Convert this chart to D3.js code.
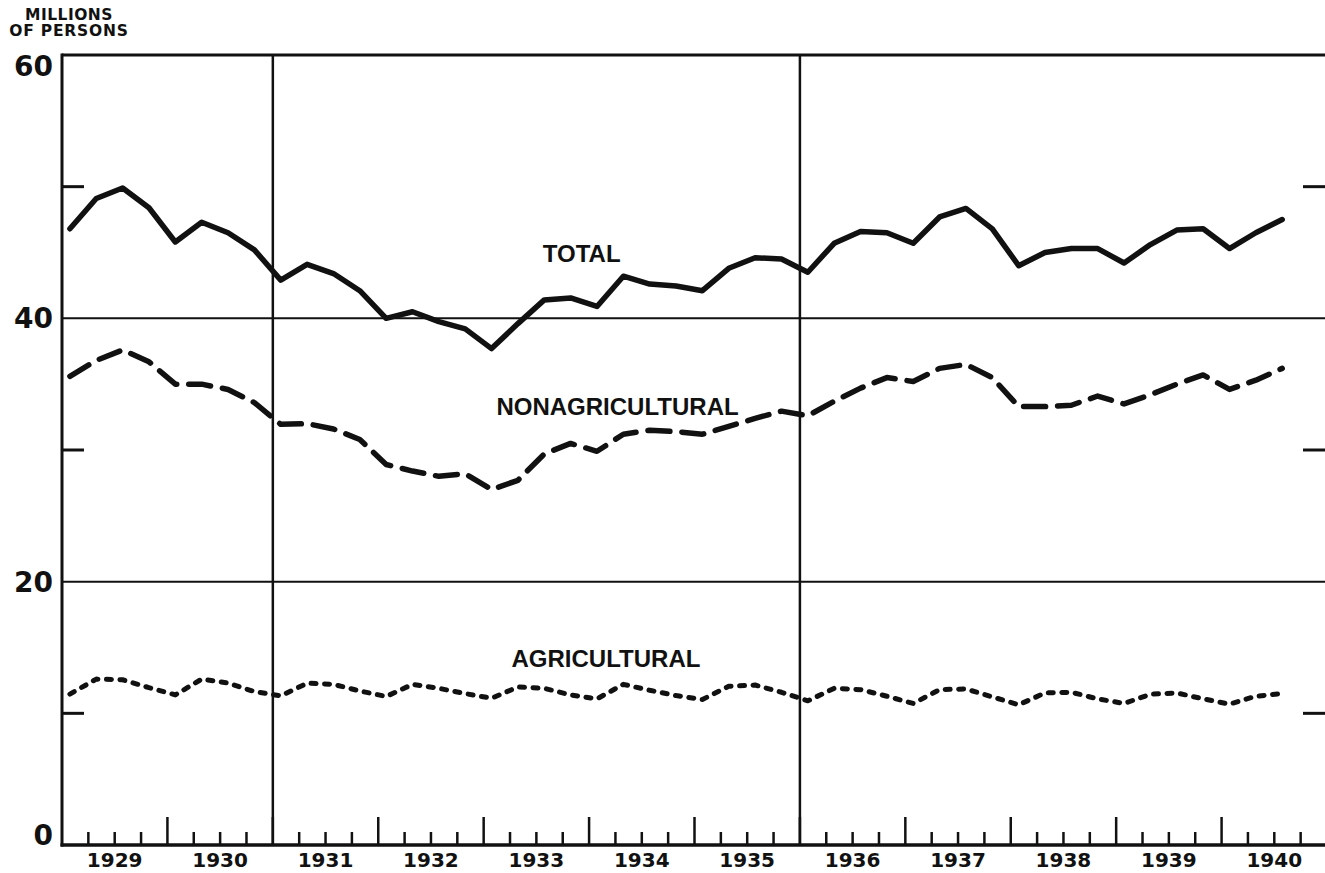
<!DOCTYPE html>
<html lang="en">
<head>
<meta charset="utf-8">
<title>Employment 1929-1940</title>
<script src="https://cdn.jsdelivr.net/npm/d3@7/dist/d3.min.js"></script>
<style>
  html, body { margin: 0; padding: 0; background: #fff; }
  svg { display: block; }
  .num { font-family: "DejaVu Sans", sans-serif; font-weight: bold; fill: #111; }
  .lbl { font-family: "Liberation Sans", Arial, sans-serif; font-weight: bold; fill: #111; }
</style>
</head>
<body>
<div id="chart"></div>
<script>
// quarterly values, 1929 Q1 .. 1940 Q3 (millions of persons)
var firstYear = 1929;
var years = [1929, 1930, 1931, 1932, 1933, 1934, 1935, 1936, 1937, 1938, 1939, 1940];

var total = [46.8, 49.1, 49.9, 48.4, 45.8, 47.3, 46.5, 45.2,
             42.9, 44.1, 43.4, 42.1, 40.0, 40.5, 39.75, 39.2,
             37.7, 39.6, 41.4, 41.55, 40.9, 43.2, 42.6, 42.45,
             42.1, 43.8, 44.6, 44.5, 43.5, 45.7, 46.6, 46.5,
             45.7, 47.7, 48.35, 46.8, 44.0, 45.0, 45.3, 45.3,
             44.2, 45.6, 46.7, 46.8, 45.3, 46.5, 47.5];

var nonAgricultural = [35.6, 36.8, 37.6, 36.7, 35.0, 35.0, 34.6, 33.6,
                       31.95, 32.0, 31.6, 30.8, 28.9, 28.4, 28.0, 28.2,
                       27.0, 27.7, 29.7, 30.5, 29.9, 31.2, 31.5, 31.4,
                       31.2, 31.8, 32.4, 32.95, 32.6, 33.7, 34.7, 35.5,
                       35.2, 36.2, 36.5, 35.5, 33.3, 33.3, 33.4, 34.1,
                       33.5, 34.2, 35.0, 35.7, 34.6, 35.3, 36.2];

var agricultural = [11.46, 12.6, 12.55, 11.95, 11.4, 12.6, 12.3, 11.65,
                    11.33, 12.29, 12.2, 11.7, 11.28, 12.2, 11.9, 11.5,
                    11.15, 12.0, 11.9, 11.4, 11.1, 12.2, 11.75, 11.35,
                    11.05, 12.05, 12.15, 11.6, 10.95, 11.9, 11.8, 11.3,
                    10.75, 11.8, 11.85, 11.25, 10.65, 11.55, 11.6, 11.1,
                    10.75, 11.45, 11.55, 11.1, 10.7, 11.3, 11.5];

var yLabels = [0, 20, 40, 60];
var gridValues = [20, 40];
var sideMarks = [10, 30, 50];
var dividerYears = [1931, 1936];

var width = 1325,
    height = 873;

var svg = d3.select("#chart")
    .append("svg")
    .attr("width", width)
    .attr("height", height);

var x = d3.scaleLinear().domain([1929, 1941]).range([62, 1327]);
var y = d3.scaleLinear().domain([0, 60]).range([845, 55]);

// position of quarter i (data sits a bit into each quarter)
function qx(i) { return x(firstYear + (i + 0.3) / 4); }

// horizontal rules
svg.append("line")
    .attr("x1", x(1929)).attr("x2", width)
    .attr("y1", y(60)).attr("y2", y(60))
    .attr("stroke", "#111").attr("stroke-width", 3);

svg.selectAll(".grid")
    .data(gridValues)
  .enter().append("line")
    .attr("class", "grid")
    .attr("x1", x(1929)).attr("x2", width)
    .attr("y1", function(d) { return y(d); })
    .attr("y2", function(d) { return y(d); })
    .attr("stroke", "#111").attr("stroke-width", 2);

// short marks at 10, 30, 50 on both sides
svg.selectAll(".markL")
    .data(sideMarks)
  .enter().append("line")
    .attr("x1", x(1929)).attr("x2", x(1929) + 22)
    .attr("y1", function(d) { return y(d); })
    .attr("y2", function(d) { return y(d); })
    .attr("stroke", "#111").attr("stroke-width", 3);

svg.selectAll(".markR")
    .data(sideMarks)
  .enter().append("line")
    .attr("x1", width - 22).attr("x2", width)
    .attr("y1", function(d) { return y(d); })
    .attr("y2", function(d) { return y(d); })
    .attr("stroke", "#111").attr("stroke-width", 3);

// vertical dividers
svg.selectAll(".divider")
    .data(dividerYears)
  .enter().append("line")
    .attr("x1", function(d) { return x(d); })
    .attr("x2", function(d) { return x(d); })
    .attr("y1", y(60)).attr("y2", y(0))
    .attr("stroke", "#111").attr("stroke-width", 2.5);

// left axis
svg.append("line")
    .attr("x1", x(1929)).attr("x2", x(1929))
    .attr("y1", y(60) - 1.5).attr("y2", y(0) + 1.5)
    .attr("stroke", "#111").attr("stroke-width", 3);

// bottom axis with quarter ticks
svg.append("line")
    .attr("x1", x(1929) - 1.5).attr("x2", width)
    .attr("y1", y(0)).attr("y2", y(0))
    .attr("stroke", "#111").attr("stroke-width", 3.5);

svg.selectAll(".qtick")
    .data(d3.range(1, 48))
  .enter().append("line")
    .attr("x1", function(q) { return x(firstYear + q / 4); })
    .attr("x2", function(q) { return x(firstYear + q / 4); })
    .attr("y1", y(0))
    .attr("y2", function(q) { return y(0) - (q % 4 === 0 ? 28 : 13); })
    .attr("stroke", "#111").attr("stroke-width", 2.5);

svg.selectAll(".year")
    .data(years)
  .enter().append("text")
    .attr("class", "num")
    .attr("x", function(d) { return x(d + 0.5); })
    .attr("y", 867)
    .attr("text-anchor", "middle")
    .attr("font-size", 20)
    .text(function(d) { return d; });

svg.selectAll(".ylab")
    .data(yLabels)
  .enter().append("text")
    .attr("class", "num")
    .attr("x", x(1929) - 9)
    .attr("y", function(d) { return d === 60 ? y(d) + 21 : (d === 0 ? y(d) - 0 : y(d) + 10); })
    .attr("text-anchor", "end")
    .attr("font-size", 28)
    .text(function(d) { return d; });

svg.append("text")
    .attr("class", "num")
    .attr("x", 69).attr("y", 20)
    .attr("text-anchor", "middle")
    .attr("font-size", 15.5)
    .attr("letter-spacing", 0.5)
    .text("MILLIONS");

svg.append("text")
    .attr("class", "num")
    .attr("x", 69).attr("y", 36)
    .attr("text-anchor", "middle")
    .attr("font-size", 15.5)
    .attr("letter-spacing", 0.8)
    .text("OF PERSONS");

// series
var line = d3.line()
    .x(function(d, i) { return qx(i); })
    .y(function(d) { return y(d); });

svg.append("path")
    .datum(total)
    .attr("d", line)
    .attr("fill", "none")
    .attr("stroke", "#111")
    .attr("stroke-width", 5.5)
    .attr("stroke-linejoin", "round")
    .attr("stroke-linecap", "round");

svg.append("path")
    .datum(nonAgricultural)
    .attr("d", line)
    .attr("fill", "none")
    .attr("stroke", "#111")
    .attr("stroke-width", 5.5)
    .attr("stroke-dasharray", "22,12")
    .attr("stroke-linejoin", "round")
    .attr("stroke-linecap", "round");

svg.append("path")
    .datum(agricultural)
    .attr("d", line)
    .attr("fill", "none")
    .attr("stroke", "#111")
    .attr("stroke-width", 5)
    .attr("stroke-dasharray", "5,8.5")
    .attr("stroke-linejoin", "round")
    .attr("stroke-linecap", "round");

// series labels
var seriesLabels = [
  { text: "TOTAL", year: 1933.93, value: 44.28 },
  { text: "NONAGRICULTURAL", year: 1934.27, value: 32.66 },
  { text: "AGRICULTURAL", year: 1934.16, value: 13.52 }
];

svg.selectAll(".slab")
    .data(seriesLabels)
  .enter().append("text")
    .attr("class", "lbl")
    .attr("x", function(d) { return x(d.year); })
    .attr("y", function(d) { return y(d.value); })
    .attr("text-anchor", "middle")
    .attr("font-size", 24)
    .text(function(d) { return d.text; });
</script>
</body>
</html>
